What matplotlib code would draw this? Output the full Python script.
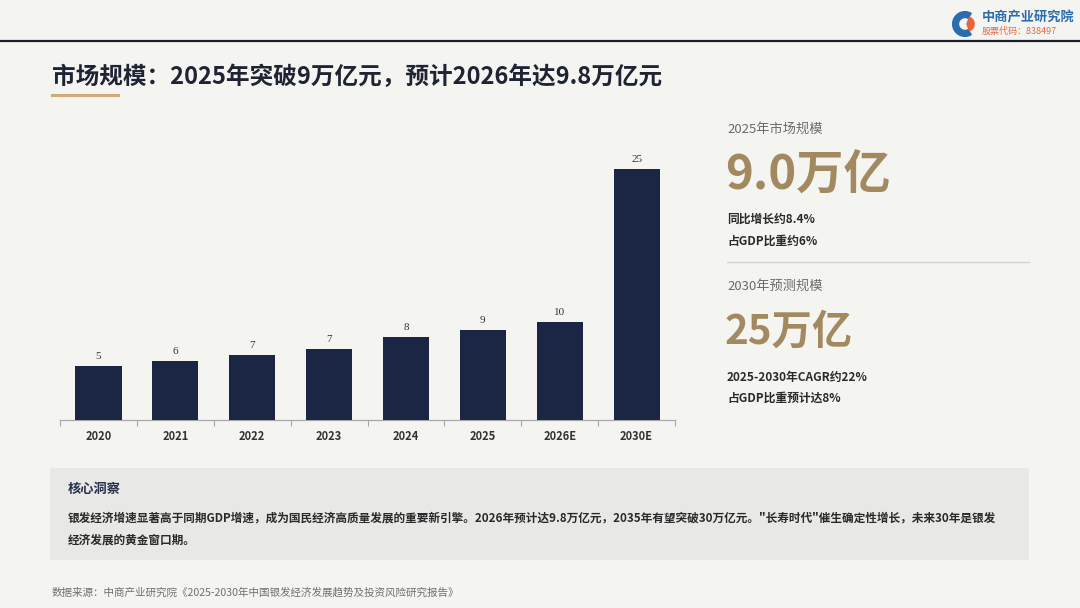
import matplotlib
matplotlib.use('Agg')
import matplotlib.pyplot as plt
from matplotlib.patches import Rectangle, Wedge

plt.rcParams['font.family'] = ['Noto Sans CJK SC', 'DejaVu Sans']

# data
years = ['2020', '2021', '2022', '2023', '2024', '2025', '2026E', '2030E']
market = [5.4, 5.9, 6.5, 7.1, 8.3, 9.0, 9.8, 25.0]
bar_labels = ['5', '6', '7', '7', '8', '9', '10', '25']

title = '市场规模：2025年突破9万亿元，预计2026年达9.8万亿元'
kpi_2025 = ['2025年市场规模', '9.0万亿', '同比增长约8.4%', '占GDP比重约6%']
kpi_2030 = ['2030年预测规模', '25万亿', '2025-2030年CAGR约22%', '占GDP比重预计达8%']
insight_head = '核心洞察'
insight_lines = ['银发经济增速显著高于同期GDP增速，成为国民经济高质量发展的重要新引擎。2026年预计达9.8万亿元，2035年有望突破30万亿元。"长寿时代"催生确定性增长，未来30年是银发',
                 '经济发展的黄金窗口期。']
source = '数据来源：中商产业研究院《2025-2030年中国银发经济发展趋势及投资风险研究报告》'

W, H = 1080, 608
BG = '#f4f4f1'
NAVY = '#1b2645'
GOLD = '#a3895f'


def fx(px):
  return px / W


def fy(py):
  return 1 - py / H


fig = plt.figure(figsize=(W / 100, H / 100), dpi=100, facecolor=BG)

# header rule and logo
fig.add_artist(plt.Line2D([0, 1], [fy(41), fy(41)], color='#1c1f2b', lw=1.6))
ax_logo = fig.add_axes([fx(952), fy(37), fx(26), 26 / H])
ax_logo.set_xlim(-1, 1)
ax_logo.set_ylim(-1, 1)
ax_logo.set_aspect('equal')
ax_logo.axis('off')
ax_logo.add_patch(Wedge((0, 0), 0.95, 60, 300, width=0.45, color='#2b6cb0'))
ax_logo.add_patch(Wedge((0.15, 0), 0.55, -70, 70, color='#e8623a'))
fig.text(fx(982), fy(17), '中商产业研究院', fontsize=9.5, color='#2b6cb0',
         fontweight='bold', va='center')
fig.text(fx(982), fy(31), '股票代码：838497', fontsize=6.5, color='#e26a45', va='center')

# title
fig.text(fx(52), fy(77), title, fontsize=17, fontweight='bold', color='#1e2433', va='center')
fig.add_artist(plt.Line2D([fx(52), fx(118)], [fy(95), fy(95)], color='#d1aa78', lw=2.2))

# bar chart
ax = fig.add_axes([fx(60), fy(420), fx(675 - 60), (420 - 150) / H])
ax.set_facecolor('none')
xpos = range(len(years))
bars = ax.bar(xpos, market, width=0.6, color=NAVY, zorder=3)
for b, lab in zip(bars, bar_labels):
  ax.text(b.get_x() + b.get_width() / 2, b.get_height() + 0.5, lab,
          ha='center', va='bottom', fontsize=8, color='#333333',
          family='Liberation Serif')
ax.set_xlim(-0.5, len(years) - 0.5)
ax.set_ylim(0, 26.9)
for s in ['top', 'right', 'left']:
  ax.spines[s].set_visible(False)
ax.spines['bottom'].set_color('#a8a8a8')
ax.spines['bottom'].set_linewidth(0.9)
ax.set_yticks([])
ax.set_xticks([i + 0.5 for i in range(-1, len(years))], minor=False)
ax.set_xticklabels([])
ax.tick_params(axis='x', length=4, color='#a8a8a8', width=0.8)
for i, lab in enumerate(years):
  ax.text(i, -1.0, lab, ha='center', va='top', fontsize=8, fontweight='bold',
          color='#333333')

# KPI panel
def kpi_block(items, y0, y1, y2, y3, big):
  fig.text(fx(727), fy(y0), items[0], fontsize=9.5, color='#6b6b6b', va='center')
  fig.text(fx(725), fy(y1), items[1], fontsize=big, color=GOLD, fontweight='bold', va='center')
  fig.text(fx(727), fy(y2), items[2], fontsize=8.5, color='#2a2a2a', fontweight='bold', va='center')
  fig.text(fx(727), fy(y3), items[3], fontsize=8.5, color='#2a2a2a', fontweight='bold', va='center')


kpi_block(kpi_2025, 129, 176, 219, 241, 34)
fig.add_artist(plt.Line2D([fx(727), fx(1029)], [fy(262), fy(262)], color='#d4d4d2', lw=1))
kpi_block(kpi_2030, 286, 332, 377, 398, 29)

# insight box
fig.add_artist(Rectangle((fx(50), fy(560)), fx(1029 - 50), (560 - 468) / H,
                         facecolor='#e8e8e6', edgecolor='none'))
fig.text(fx(68), fy(489), insight_head, fontsize=9.5, fontweight='bold', color='#27304d', va='center')
fig.text(fx(68), fy(518), insight_lines[0], fontsize=8.4, fontweight='bold', color='#2a2a2a', va='center')
fig.text(fx(68), fy(540), insight_lines[1], fontsize=8.4, fontweight='bold', color='#2a2a2a', va='center')

# source
fig.text(fx(52), fy(592), source, fontsize=7.6, color='#707070', va='center')

fig.savefig('out.png', dpi=100, facecolor=BG)
